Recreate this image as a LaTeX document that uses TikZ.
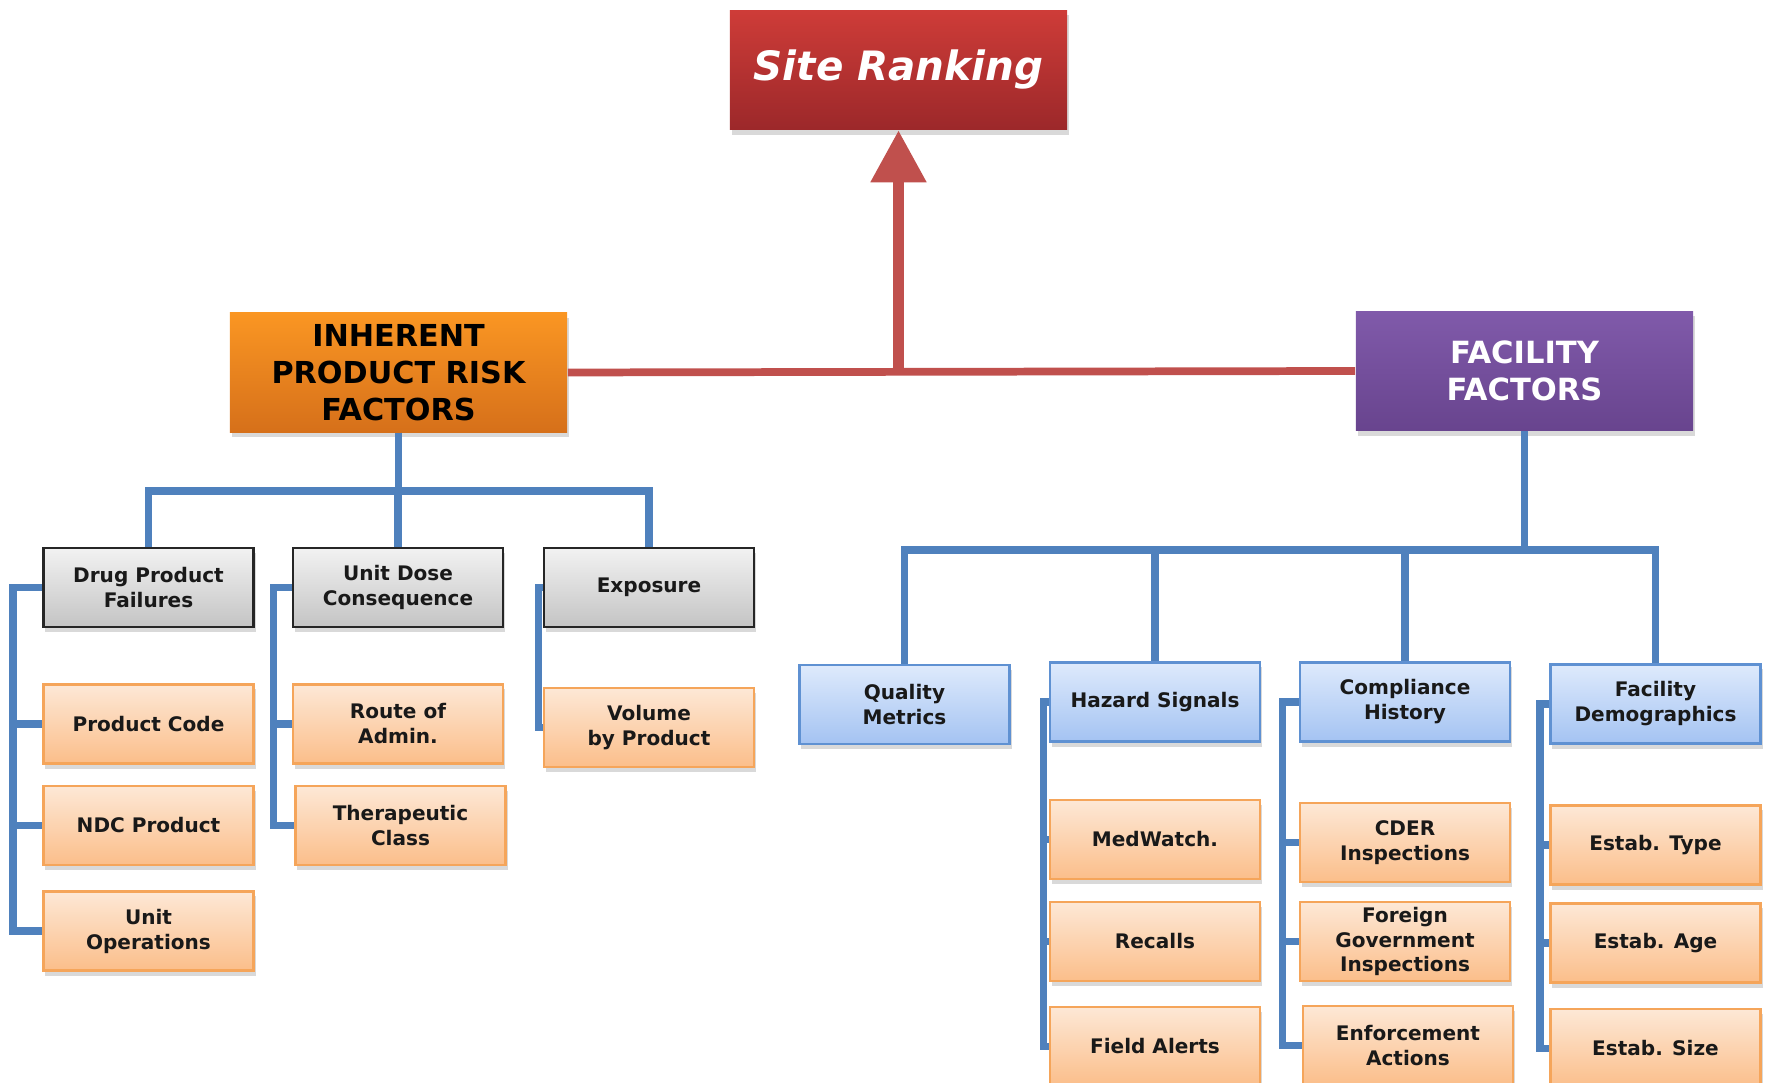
\documentclass[tikz,border=0pt]{standalone}
\usepackage{fontspec}
\setmainfont{DejaVu Sans}
\usetikzlibrary{arrows.meta, shadows}
\definecolor{lineBlue}{RGB}{79,129,189}
\definecolor{lineRed}{RGB}{192,80,77}
\definecolor{siteTop}{RGB}{206,60,56}
\definecolor{siteBottom}{RGB}{156,40,42}
\definecolor{inherentTop}{RGB}{250,150,35}
\definecolor{inherentBottom}{RGB}{214,112,26}
\definecolor{facilityTop}{RGB}{128,90,170}
\definecolor{facilityBottom}{RGB}{104,68,142}
\definecolor{greyTop}{RGB}{242,242,242}
\definecolor{greyBottom}{RGB}{196,196,196}
\definecolor{blueTop}{RGB}{222,234,252}
\definecolor{blueBottom}{RGB}{164,195,242}
\definecolor{blueEdge}{RGB}{95,145,210}
\definecolor{orangeTop}{RGB}{253,232,214}
\definecolor{orangeBottom}{RGB}{251,190,138}
\definecolor{orangeEdge}{RGB}{245,165,90}
\tikzstyle{chart} = [x = 0.01cm, y = -0.01cm]
\tikzstyle{boxShadow} = [drop shadow={opacity=0.3, shadow xshift=0.02cm, shadow yshift=-0.05cm}]
\tikzstyle{bigBox} = [rectangle, minimum width=3.37cm, minimum height=1.19cm, inner sep=0pt, align=center, boxShadow]
\tikzstyle{siteStyle} = [bigBox, top color=siteTop, bottom color=siteBottom, text=white, font=\bfseries\itshape\fontsize{11.5}{14}\selectfont]
\tikzstyle{inherentStyle} = [bigBox, top color=inherentTop, bottom color=inherentBottom, text=black, font=\bfseries\fontsize{8.6}{10.5}\selectfont]
\tikzstyle{facilityStyle} = [bigBox, top color=facilityTop, bottom color=facilityBottom, text=white, font=\bfseries\fontsize{8.7}{10.5}\selectfont]
\tikzstyle{smallBox} = [rectangle, minimum width=2.1cm, minimum height=0.79cm, inner sep=0pt, align=center, line width=0.8pt, text=black!90, font=\bfseries\fontsize{5.7}{7.1}\selectfont, boxShadow]
\tikzstyle{greyBoxStyle} = [smallBox, draw=black!85, top color=greyTop, bottom color=greyBottom]
\tikzstyle{blueBoxStyle} = [smallBox, draw=blueEdge, top color=blueTop, bottom color=blueBottom]
\tikzstyle{orangeBoxStyle} = [smallBox, draw=orangeEdge, top color=orangeTop, bottom color=orangeBottom]
\tikzstyle{blueLine} = [draw=lineBlue, line width=2.2pt]
\tikzstyle{redLine} = [draw=lineRed, line width=2.2pt]
\tikzstyle{redArrow} = [draw=lineRed, line width=3.2pt, -{Triangle[length=0.52cm, width=0.53cm]}]
\newcommand{\greyBox}[4]{\node [greyBoxStyle] (#1) at (#2, #3) {#4};}
\newcommand{\blueBox}[4]{\node [blueBoxStyle] (#1) at (#2, #3) {#4};}
\newcommand{\orangeBox}[4]{\node [orangeBoxStyle] (#1) at (#2, #3) {#4};}
\newcommand{\treeLines}[3]{
  \foreach \kid in {#3} {
    \draw [blueLine] (#1.south) -- ++(0,#2) -| (\kid.north);
  }
}
\newcommand{\bracketLines}[3]{
  \foreach \kid in {#3} {
    \draw [blueLine] (#1.west) -- ++(#2,0) |- (\kid.west);
  }
}
\begin{document}
\begin{tikzpicture}[chart]
        \useasboundingbox (0,0) rectangle (1765,1083);
        \node [siteStyle] (site) at (898.5,70) {Site Ranking};
        \node [inherentStyle] (inherent) at (398.5,372.5) {INHERENT\\PRODUCT RISK\\FACTORS};
        \node [facilityStyle] (facility) at (1524.5,371) {FACILITY\\FACTORS};
        \draw [redLine] (inherent.east) -- (facility.west);
        \coordinate (joint) at (site.south |- facility.west);
        \draw [redArrow] (joint) -- (site.south);

        % product side
        \greyBox{drug}{148.5}{587.5}{Drug Product\\Failures}
        \greyBox{unitDose}{398}{587.5}{Unit Dose\\Consequence}
        \greyBox{exposure}{649}{587.5}{Exposure}
        \orangeBox{prodCode}{148.5}{724}{Product Code}
        \orangeBox{ndcProduct}{148.5}{825.5}{NDC Product}
        \orangeBox{unitOps}{148.5}{931}{Unit\\Operations}
        \orangeBox{routeAdmin}{398}{724}{Route of\\Admin.}
        \orangeBox{therapClass}{400.5}{825.5}{Therapeutic\\Class}
        \orangeBox{volume}{649}{727.5}{Volume\\by Product}
        \treeLines{inherent}{58}{drug,unitDose,exposure}
        \bracketLines{drug}{-29}{prodCode,ndcProduct,unitOps}
        \bracketLines{unitDose}{-18}{routeAdmin,therapClass}
        \bracketLines{exposure}{-4}{volume}

        % facility side
        \blueBox{quality}{904.5}{704.5}{Quality\\Metrics}
        \blueBox{hazard}{1155}{702}{Hazard Signals}
        \blueBox{compliance}{1405}{702}{Compliance\\History}
        \blueBox{facDem}{1655.5}{704}{Facility\\Demographics}
        \orangeBox{medWatch}{1155}{839.5}{MedWatch.}
        \orangeBox{recalls}{1155}{941.5}{Recalls}
        \orangeBox{fieldAlerts}{1155}{1046.5}{Field Alerts}
        \orangeBox{cder}{1405}{842.5}{CDER\\Inspections}
        \orangeBox{foreign}{1405}{941.5}{Foreign\\Government\\Inspections}
        \orangeBox{enforcement}{1408}{1045.5}{Enforcement\\Actions}
        \orangeBox{estabType}{1655.5}{845}{Estab. Type}
        \orangeBox{estabAge}{1655.5}{943}{Estab. Age}
        \orangeBox{estabSize}{1655.5}{1048.5}{Estab. Size}
        \treeLines{facility}{119}{quality,hazard,compliance,facDem}
        \bracketLines{hazard}{-5}{medWatch,recalls,fieldAlerts}
        \bracketLines{compliance}{-16}{cder,foreign,enforcement}
        \bracketLines{facDem}{-9}{estabType,estabAge,estabSize}
      \end{tikzpicture}
\end{document}
